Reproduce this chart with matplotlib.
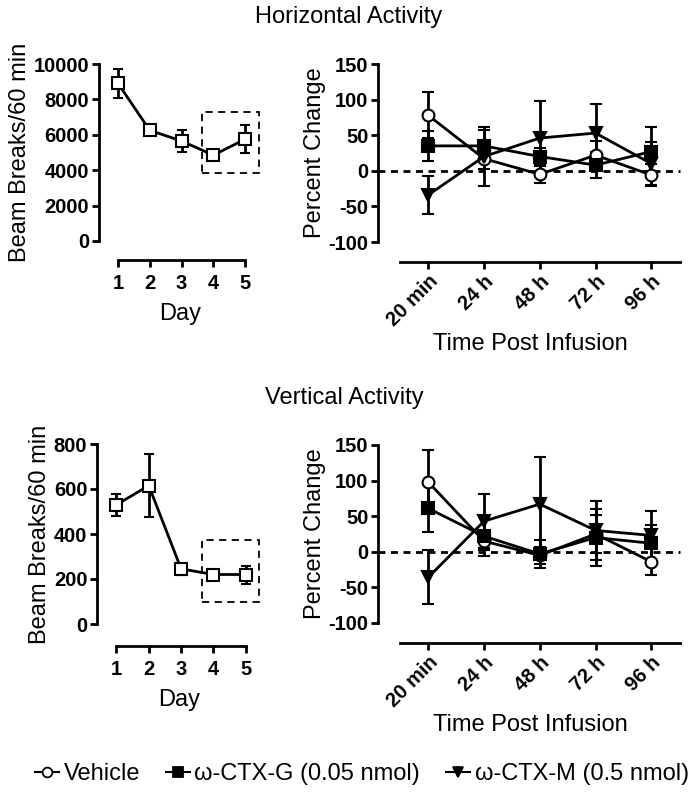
import numpy as np
import matplotlib
matplotlib.use('Agg')
import matplotlib.pyplot as plt
from matplotlib.patches import Rectangle
from matplotlib.lines import Line2D

plt.rcParams['font.family'] = ['Liberation Sans', 'DejaVu Sans']
plt.rcParams['axes.unicode_minus'] = False

# --- Data ---
days = [1, 2, 3, 4, 5]
horiz_day = [8900, 6250, 5650, 4850, 5750]
horiz_day_err = [800, 150, 600, 200, 800]
vert_day = [530, 615, 245, 220, 220]
vert_day_err = [48, 140, 25, 12, 40]

times = ['20 min', '24 h', '48 h', '72 h', '96 h']
h_vehicle = [78, 17, -5, 22, -6]
h_vehicle_err = [32, 15, 12, 20, 15]
h_ctxg = [35, 35, 20, 8, 27]
h_ctxg_err = [21, 22, 12, 18, 35]
h_ctxm = [-34, 20, 46, 53, 10]
h_ctxm_err = [26, 42, 52, 41, 30]

v_vehicle = [98, 15, -5, 25, -14]
v_vehicle_err = [45, 12, 12, 27, 19]
v_ctxg = [61, 22, -3, 20, 12]
v_ctxg_err = [33, 28, 20, 40, 26]
v_ctxm = [-36, 43, 67, 30, 23]
v_ctxm_err = [38, 38, 66, 42, 35]

series_names = ['Vehicle', '\u03c9-CTX-G (0.05 nmol)', '\u03c9-CTX-M (0.5 nmol)']
series_markers = ['o', 's', 'v']
series_faces = ['white', 'black', 'black']

W, H = 692, 794
fig = plt.figure(figsize=(W / 100, H / 100), dpi=100)


def make_axes(left, top, right, bottom):
    # pixel box -> figure fraction
    return fig.add_axes([left / W, 1 - bottom / H, (right - left) / W, (bottom - top) / H])


def style(ax, yticks, xbounds, drop):
    for s in ['top', 'right']:
        ax.spines[s].set_visible(False)
    ax.spines['left'].set_linewidth(2)
    ax.spines['bottom'].set_linewidth(2)
    ax.spines['bottom'].set_position(('outward', drop * 0.72))
    ax.spines['left'].set_bounds(yticks[0], yticks[-1])
    ax.spines['bottom'].set_bounds(*xbounds)
    ax.set_yticks(yticks)
    ax.tick_params(width=2, length=5, labelsize=14.5, pad=2)


def bold_ticks(ax):
    for lab in ax.get_yticklabels() + ax.get_xticklabels():
        lab.set_fontweight('bold')


def day_panel(ax, vals, errs, yticks, box, drop):
    ax.errorbar(days, vals, yerr=errs, color='black', lw=2, capsize=3.5, capthick=2,
                marker='s', ms=8, mfc='white', mec='black', mew=1.5, clip_on=False, zorder=3)
    ax.add_patch(Rectangle((box[0], box[2]), box[1] - box[0], box[3] - box[2],
                           fill=False, ls=(0, (4, 3)), lw=1.3, ec='black', clip_on=False))
    ax.set_xlim(0.4, 5.5)
    ax.set_ylim(yticks[0], yticks[-1])
    style(ax, yticks, (1, 5), drop)
    ax.set_xticks(days)
    ax.tick_params(axis='x', pad=5)
    bold_ticks(ax)
    ax.set_xlabel('Day', fontsize=17, labelpad=7)
    ax.set_ylabel('Beam Breaks/60 min', fontsize=17, labelpad=2)


def time_panel(ax, data):
    x = np.arange(len(times))
    ax.plot([-0.9, 4.52], [0, 0], ls=(0, (2.5, 2)), color='black', lw=2, zorder=1, clip_on=False)
    for (vals, errs), m, fc in zip(data, series_markers, series_faces):
        ax.errorbar(x, vals, yerr=errs, color='black', lw=2, capsize=4, capthick=1.8,
                    marker=m, ms=8.5, mfc=fc, mec='black', mew=1.5, clip_on=False, zorder=3)
    ax.set_xlim(-0.9, 4.55)
    ax.set_ylim(-100, 150)
    style(ax, [-100, -50, 0, 50, 100, 150], (-0.51, 4.52), 20)
    ax.set_xticks(x)
    ax.set_xticklabels(times, rotation=45, ha='right', rotation_mode='anchor')
    bold_ticks(ax)
    ax.set_xlabel('Time Post Infusion', fontsize=17, labelpad=2)
    ax.set_ylabel('Percent Change', fontsize=17, labelpad=2)


# --- Horizontal activity ---
ax1 = make_axes(99, 64, 261, 241)
day_panel(ax1, horiz_day, horiz_day_err, [0, 2000, 4000, 6000, 8000, 10000],
          (3.65, 5.45, 3850, 7300), 19)

ax2 = make_axes(378, 64, 682, 242)
time_panel(ax2, [(h_vehicle, h_vehicle_err), (h_ctxg, h_ctxg_err), (h_ctxm, h_ctxm_err)])

# --- Vertical activity ---
ax3 = make_axes(97, 444, 262, 624)
day_panel(ax3, vert_day, vert_day_err, [0, 200, 400, 600, 800], (3.64, 5.42, 97, 374), 22)

ax4 = make_axes(378, 445, 682, 623)
time_panel(ax4, [(v_vehicle, v_vehicle_err), (v_ctxg, v_ctxg_err), (v_ctxm, v_ctxm_err)])

fig.text(349 / W, 1 - 17 / H, 'Horizontal Activity', fontsize=17, ha='center', va='center')
fig.text(344 / W, 1 - 398 / H, 'Vertical Activity', fontsize=17, ha='center', va='center')

# --- Legend ---
handles = [Line2D([], [], color='black', lw=1.5, marker=m, ms=7, mfc=fc, mec='black', mew=1.3)
           for m, fc in zip(series_markers, series_faces)]
fig.legend(handles, series_names, loc='center', bbox_to_anchor=(362 / W, 1 - 774 / H),
           ncol=3, frameon=False, fontsize=17, handlelength=1.0, handletextpad=0.2,
           columnspacing=1.1)

fig.savefig('out.png', dpi=100)
